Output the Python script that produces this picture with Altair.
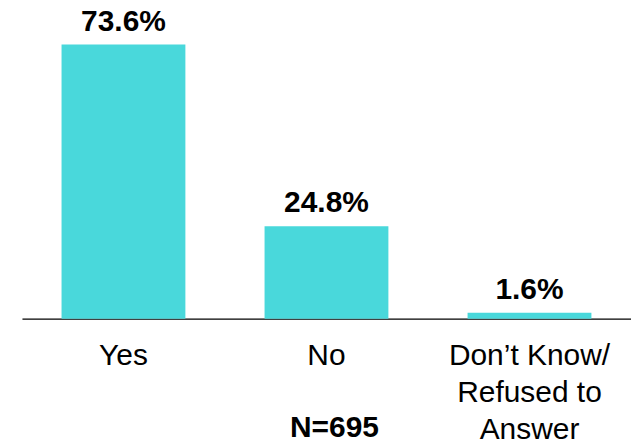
import altair as alt
import pandas as pd

categories = ["Yes", "No", "Don’t Know/Refused to Answer"]
label_lines = [["Yes"], ["No"], ["Don’t Know/", "Refused to", "Answer"]]
values = [73.6, 24.8, 1.6]
value_labels = ["73.6%", "24.8%", "1.6%"]
note_text = "N=695"
note_category = "No"

df = pd.DataFrame({"cat": categories, "val": values, "lbl": value_labels})
note_df = pd.DataFrame({"cat": [note_category], "val": [0], "txt": [note_text]})

# build label expression from label_lines
parts = []
for c, lines in zip(categories, label_lines):
    if len(lines) > 1:
        arr = "[" + ", ".join("'" + l + "'" for l in lines) + "]"
        parts.append(f"datum.value == '{c}' ? {arr}")
label_expr = " : ".join(parts) + " : datum.value" if parts else "datum.value"

FONT = "Liberation Sans"
COLOR = "#49D8DB"

x_enc = alt.X(
    "cat:N",
    sort=categories,
    scale=alt.Scale(paddingInner=0.39, paddingOuter=0.195),
    axis=alt.Axis(
        title=None,
        ticks=False,
        domainColor="black",
        domainWidth=1.3,
        labelAngle=0,
        labelFont=FONT,
        labelFontSize=30,
        labelColor="black",
        labelPadding=22,
        labelLineHeight=37,
        labelExpr=label_expr,
    ),
)
y_scale = alt.Scale(domain=[0, 80])

bars = alt.Chart(df).mark_bar(color=COLOR).encode(
    x=x_enc,
    y=alt.Y("val:Q", scale=y_scale, axis=None),
)

texts = alt.Chart(df).mark_text(
    font=FONT, fontSize=30, fontWeight="bold", color="black",
    baseline="alphabetic", dy=-14,
).encode(
    x=alt.X("cat:N", sort=categories),
    y=alt.Y("val:Q", scale=y_scale),
    text="lbl:N",
)

note = alt.Chart(note_df).mark_text(
    font=FONT, fontSize=30, fontWeight="bold", color="black",
    baseline="alphabetic", dx=8, dy=119,
).encode(
    x=alt.X("cat:N", sort=categories),
    y=alt.Y("val:Q", scale=y_scale),
    text="txt:N",
)

chart = (
    alt.layer(bars, texts, note)
    .properties(
        width=611,
        height=299,
        autosize=alt.AutoSizeParams(type="none"),
        padding={"left": 14, "top": 12, "right": 0, "bottom": 127},
    )
    .configure_view(stroke=None)
    .configure_axis(grid=False)
)

chart.save("out.html", embed_options={"renderer": "svg", "actions": False})
